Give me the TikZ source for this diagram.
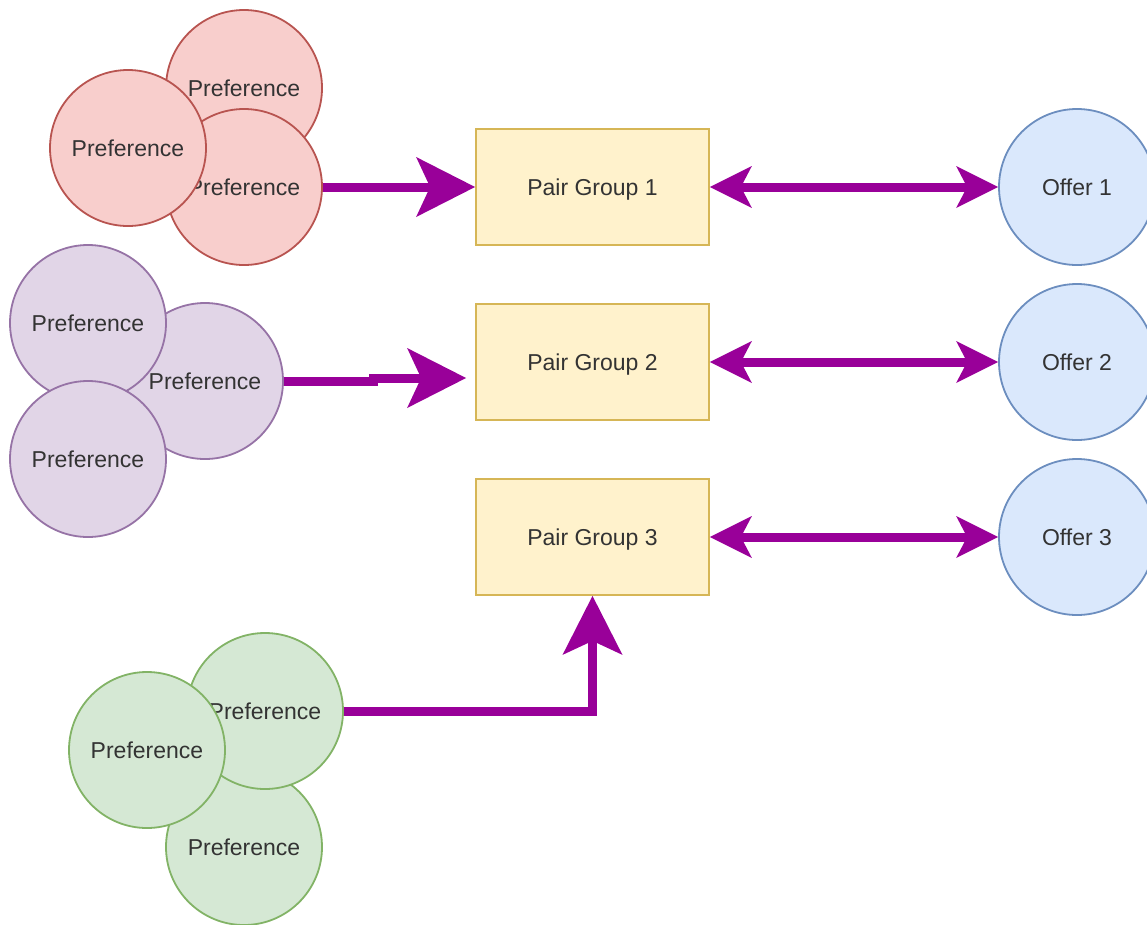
\documentclass[tikz,border=0pt]{standalone}
\usepackage{fontspec}
\setmainfont{Liberation Sans}
\usetikzlibrary{arrows.meta}

\definecolor{redfill}{HTML}{F8CECC}
\definecolor{redline}{HTML}{B85450}
\definecolor{purfill}{HTML}{E1D5E7}
\definecolor{purline}{HTML}{9673A6}
\definecolor{grnfill}{HTML}{D5E8D4}
\definecolor{grnline}{HTML}{82B366}
\definecolor{boxfill}{HTML}{FFF2CC}
\definecolor{boxline}{HTML}{D6B656}
\definecolor{offfill}{HTML}{DAE8FC}
\definecolor{offline}{HTML}{6C8EBF}
\definecolor{arrowc}{HTML}{990099}
\definecolor{txt}{HTML}{333333}

\tikzset{
  blob/.style={circle, minimum size=156pt, inner sep=0pt, line width=1.8pt, text=txt},
  redc/.style={blob, draw=redline, fill=redfill},
  purc/.style={blob, draw=purline, fill=purfill},
  grnc/.style={blob, draw=grnline, fill=grnfill},
  offc/.style={blob, draw=offline, fill=offfill},
  pair/.style={rectangle, minimum width=233pt, minimum height=116pt, inner sep=0pt,
    draw=boxline, fill=boxfill, line width=1.8pt, text=txt, text depth=0pt},
  flow/.style={draw=arrowc, line width=9pt,
    -{Stealth[length=59pt, width=60pt, inset=14pt, line width=0pt]}},
  both/.style={draw=arrowc, line width=9pt,
    {Stealth[length=42pt, width=42pt, inset=11pt, line width=0pt]}-{Stealth[length=42pt, width=42pt, inset=11pt, line width=0pt]}}
}

\begin{document}
\begin{tikzpicture}[x=1pt, y=-1pt, font=\fontsize{23}{27}\selectfont]
\useasboundingbox (0,0) rectangle (1147,924);
\clip (0,0) rectangle (1147,924);

% red preference cluster
\node[redc] (r1) at (244,88)  {Preference};
\node[redc] (r3) at (244,187) {Preference};
\node[redc] (r2) at (128,148) {Preference};

% purple preference cluster
\node[purc] (p2) at (205,381) {Preference};
\node[purc] (p1) at (88,323)  {Preference};
\node[purc] (p3) at (88,459)  {Preference};

% green preference cluster
\node[grnc] (g3) at (244,847) {Preference};
\node[grnc] (g1) at (265,711) {Preference};
\node[grnc] (g2) at (147,750) {Preference};

% pair groups
\node[pair] (pg1) at (592.5,187) {Pair Group 1};
\node[pair] (pg2) at (592.5,362) {Pair Group 2};
\node[pair] (pg3) at (592.5,537) {Pair Group 3};

% offers
\node[offc] (o1) at (1077,187) {Offer 1};
\node[offc] (o2) at (1077,362) {Offer 2};
\node[offc] (o3) at (1077,537) {Offer 3};

% connectors
\coordinate (lvl) at (0,378);
\draw[flow] (r3.east) -- (pg1.west);
\draw[flow, shorten >=9pt] (p2.east) -- ++(90,0) -- ++(0,-3) -- (pg2.west |- lvl);
\draw[flow] (g1.east) -| (pg3.south);

\draw[both] (pg1.east) -- (o1.west);
\draw[both] (pg2.east) -- (o2.west);
\draw[both] (pg3.east) -- (o3.west);
\end{tikzpicture}
\end{document}
